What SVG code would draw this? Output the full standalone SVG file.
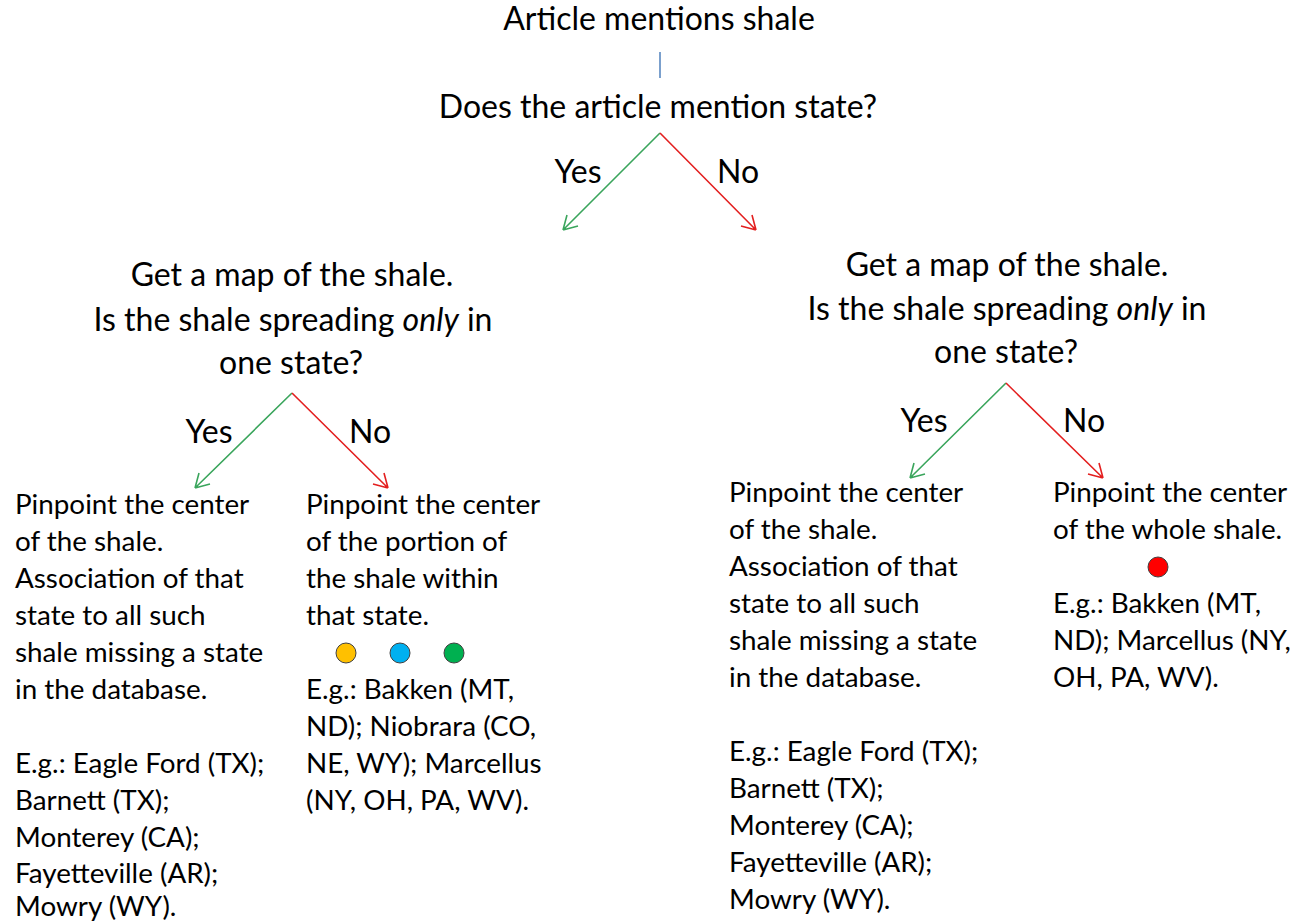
<svg xmlns="http://www.w3.org/2000/svg" width="1295" height="924" viewBox="0 0 1295 924">
<style>
text{font-family:Lato,"Liberation Sans",sans-serif;fill:#000}
.h{font-size:32px;text-anchor:middle}
.b{font-size:27.8px}
.g{stroke:#3aa55c;stroke-width:1.6;fill:none}
.r{stroke:#e31f1f;stroke-width:1.6;fill:none}
.dot{stroke:#404040;stroke-width:1}
</style>
<rect width="1295" height="924" fill="#fff"/>
<g id="connectors">
<line x1="660" y1="52" x2="660" y2="78" stroke="#4f81bd" stroke-width="1.5"/>
<path class="g" d="M660 133 L563 230 M563 230 L567 215 M563 230 L578 226"/>
<path class="r" d="M660 133 L756 230 M756 230 L741 226 M756 230 L752 215"/>
<path class="g" d="M292 393 L195 488 M195 488 L199 473 M195 488 L210 484"/>
<path class="r" d="M292 393 L388 488 M388 488 L373 484 M388 488 L384 473"/>
<path class="g" d="M1006 383 L910 478 M910 478 L914 463 M910 478 L925 474"/>
<path class="r" d="M1006 383 L1103 478 M1103 478 L1088 474 M1103 478 L1099 463"/>
</g>
<g id="start"><text class="h" x="659" y="30">Article mentions shale</text></g>
<g id="q1"><text class="h" x="658" y="118">Does the article mention state?</text></g>
<g id="labels1">
<text class="h" x="578" y="183">Yes</text>
<text class="h" x="738" y="183">No</text>
</g>
<g id="q2left">
<text class="h" x="292" y="286">Get a map of the shale.</text>
<text class="h" x="293" y="331">Is the shale spreading <tspan font-style="italic">only</tspan> in</text>
<text class="h" x="291" y="374">one state?</text>
</g>
<g id="q2right">
<text class="h" x="1007" y="276">Get a map of the shale.</text>
<text class="h" x="1007" y="320">Is the shale spreading <tspan font-style="italic">only</tspan> in</text>
<text class="h" x="1006" y="363">one state?</text>
</g>
<g id="labels2">
<text class="h" x="209" y="443">Yes</text>
<text class="h" x="370" y="443">No</text>
<text class="h" x="924" y="432">Yes</text>
<text class="h" x="1084" y="432">No</text>
</g>
<g id="leafLL">
<text class="b" x="15" y="514">Pinpoint the center</text>
<text class="b" x="15" y="551">of the shale.</text>
<text class="b" x="15" y="588">Association of that</text>
<text class="b" x="15" y="625">state to all such</text>
<text class="b" x="15" y="662">shale missing a state</text>
<text class="b" x="15" y="699">in the database.</text>
<text class="b" x="15" y="773">E.g.: Eagle Ford (TX);</text>
<text class="b" x="15" y="810">Barnett (TX);</text>
<text class="b" x="15" y="847">Monterey (CA);</text>
<text class="b" x="15" y="883">Fayetteville (AR);</text>
<text class="b" x="15" y="916">Mowry (WY).</text>
</g>
<g id="leafLR">
<text class="b" x="306" y="514">Pinpoint the center</text>
<text class="b" x="306" y="551">of the portion of</text>
<text class="b" x="306" y="588">the shale within</text>
<text class="b" x="306" y="625">that state.</text>
<circle class="dot" cx="346" cy="653" r="10" fill="#ffc000"/>
<circle class="dot" cx="400" cy="653" r="10" fill="#00b0f0"/>
<circle class="dot" cx="454" cy="653" r="10" fill="#00b050"/>
<text class="b" x="306" y="699">E.g.: Bakken (MT,</text>
<text class="b" x="306" y="736">ND); Niobrara (CO,</text>
<text class="b" x="306" y="773">NE, WY); Marcellus</text>
<text class="b" x="306" y="810">(NY, OH, PA, WV).</text>
</g>
<g id="leafRL">
<text class="b" x="729" y="502">Pinpoint the center</text>
<text class="b" x="729" y="539">of the shale.</text>
<text class="b" x="729" y="576">Association of that</text>
<text class="b" x="729" y="613">state to all such</text>
<text class="b" x="729" y="650">shale missing a state</text>
<text class="b" x="729" y="687">in the database.</text>
<text class="b" x="729" y="761">E.g.: Eagle Ford (TX);</text>
<text class="b" x="729" y="798">Barnett (TX);</text>
<text class="b" x="729" y="835">Monterey (CA);</text>
<text class="b" x="729" y="872">Fayetteville (AR);</text>
<text class="b" x="729" y="909">Mowry (WY).</text>
</g>
<g id="leafRR">
<text class="b" x="1053" y="502">Pinpoint the center</text>
<text class="b" x="1053" y="539">of the whole shale.</text>
<circle class="dot" cx="1158" cy="567" r="10" fill="#ff0000"/>
<text class="b" x="1053" y="613">E.g.: Bakken (MT,</text>
<text class="b" x="1053" y="650">ND); Marcellus (NY,</text>
<text class="b" x="1053" y="687">OH, PA, WV).</text>
</g>
</svg>
